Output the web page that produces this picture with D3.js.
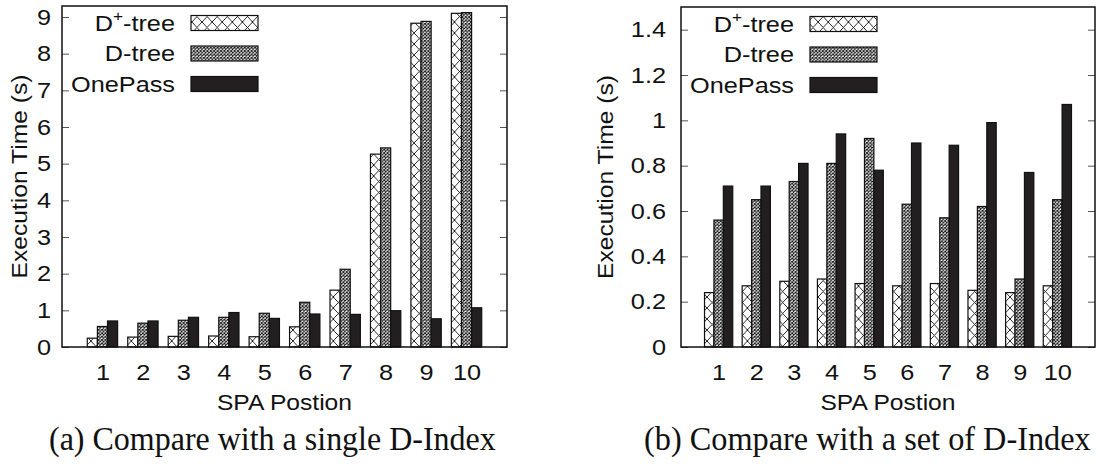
<!DOCTYPE html>
<html>
<head>
<meta charset="utf-8">
<script src="https://cdn.jsdelivr.net/npm/d3@7"></script>
<style>
  body { margin: 0; background: #fff; }
  text { font-family: "Liberation Sans", Arial, sans-serif; fill: #111; }
</style>
</head>
<body>
<svg id="chart" width="1098" height="464"></svg>
<script>
// SPA positions along the x axis
const categories = ["1", "2", "3", "4", "5", "6", "7", "8", "9", "10"];

// (a) execution time (s) against a single D-Index
const singleDplusTree = [0.24, 0.27, 0.29, 0.30, 0.28, 0.55, 1.55, 5.26, 8.83, 9.10];
const singleDTree     = [0.56, 0.65, 0.73, 0.81, 0.92, 1.22, 2.12, 5.43, 8.88, 9.12];
const singleOnePass   = [0.71, 0.71, 0.81, 0.94, 0.78, 0.90, 0.89, 0.99, 0.77, 1.07];

// (b) execution time (s) against a set of D-Index
const setDplusTree = [0.24, 0.27, 0.29, 0.30, 0.28, 0.27, 0.28, 0.25, 0.24, 0.27];
const setDTree     = [0.56, 0.65, 0.73, 0.81, 0.92, 0.63, 0.57, 0.62, 0.30, 0.65];
const setOnePass   = [0.71, 0.71, 0.81, 0.94, 0.78, 0.90, 0.89, 0.99, 0.77, 1.07];

// y tick values for each panel
const singleTicks = [0, 1, 2, 3, 4, 5, 6, 7, 8, 9];
const setTicks = [0, 0.2, 0.4, 0.6, 0.8, 1, 1.2, 1.4];

const seriesFills = ["url(#hatchCross)", "url(#hatchFine)", "#231f20"];
const SANS = '"Liberation Sans", Arial, sans-serif';
const SX = 1.15;

const svg = d3.select("#chart");

// widen (or narrow) a text around its anchor point
function stretch(sel, sx) {
  sel.each(function () {
    const t = d3.select(this);
    const x = +(t.attr("x") || 0), y = +(t.attr("y") || 0);
    const prev = t.attr("transform") || "";
    t.attr("transform", `${prev} translate(${x},${y}) scale(${sx},1) translate(${-x},${-y})`);
  });
}

// hatch patterns for the two tree variants
const defs = svg.append("defs");
const pCross = defs.append("pattern")
  .attr("id", "hatchCross").attr("patternUnits", "userSpaceOnUse")
  .attr("width", 10.1).attr("height", 11);
pCross.append("rect").attr("width", 10.1).attr("height", 11).attr("fill", "#fff");
pCross.append("path").attr("d", "M0,0L10.1,11M10.1,0L0,11")
  .attr("stroke", "#111").attr("stroke-width", 0.9).attr("fill", "none");

const pFine = defs.append("pattern")
  .attr("id", "hatchFine").attr("patternUnits", "userSpaceOnUse")
  .attr("width", 3.4).attr("height", 3.4);
pFine.append("rect").attr("width", 3.4).attr("height", 3.4).attr("fill", "#fff");
pFine.append("path").attr("d", "M-0.85,-0.85L4.25,4.25M4.25,-0.85L-0.85,4.25")
  .attr("stroke", "#111").attr("stroke-width", 0.95).attr("fill", "none");

function drawPanel(p) {
  const g = svg.append("g");
  const x = d3.scaleLinear().domain([0, categories.length + 1]).range([p.left, p.right]);
  const y = d3.scaleLinear().domain([0, p.ymax]).range([p.bottom, p.top]);
  const bw = x(0.25) - x(0);

  // y axis: labels on the left, inward ticks on both sides
  const fmt = d3.format("~g");
  const yl = g.append("g").attr("transform", `translate(${p.left},0)`)
    .call(d3.axisLeft(y).tickValues(p.ticks).tickFormat(fmt)
      .tickSize(-7).tickSizeOuter(0).tickPadding(p.labelPad));
  const yr = g.append("g").attr("transform", `translate(${p.right},0)`)
    .call(d3.axisRight(y).tickValues(p.ticks).tickFormat("")
      .tickSize(-7).tickSizeOuter(0));
  [yl, yr].forEach(a => {
    a.select(".domain").remove();
    a.selectAll(".tick line").attr("stroke", "#555").attr("stroke-width", 1);
  });
  yl.selectAll(".tick text").attr("font-size", 22).attr("fill", "#111")
    .style("font-family", SANS).call(stretch, SX);

  // x axis: category labels, no ticks
  const xa = g.append("g").attr("transform", `translate(0,${p.bottom})`)
    .call(d3.axisBottom(x).tickValues(categories.map(c => +c))
      .tickFormat(d => categories[d - 1]).tickSize(0).tickPadding(17));
  xa.select(".domain").remove();
  xa.selectAll(".tick text").attr("font-size", 22).attr("fill", "#111")
    .style("font-family", SANS).call(stretch, SX);

  // clustered bars
  p.series.forEach((vals, s) => {
    g.append("g").selectAll("rect").data(vals).join("rect")
      .attr("x", (d, i) => x(i + 1 - 0.375 + s * 0.25))
      .attr("y", d => y(d))
      .attr("width", bw)
      .attr("height", d => y(0) - y(d))
      .attr("fill", seriesFills[s])
      .attr("stroke", "#111").attr("stroke-width", 1.2);
  });

  // plot frame
  g.append("rect").attr("x", p.left).attr("y", p.top)
    .attr("width", p.right - p.left).attr("height", p.bottom - p.top)
    .attr("fill", "none").attr("stroke", "#111").attr("stroke-width", 1.5);

  // legend
  const lg = g.append("g");
  ["D", "D-tree", "OnePass"].forEach((name, s) => {
    const cy = p.top + 17 + s * 30.5;
    const t = lg.append("text").attr("x", p.left + 113).attr("y", cy + 8)
      .attr("text-anchor", "end").attr("font-size", 22);
    if (s === 0) {
      t.append("tspan").text("D");
      t.append("tspan").attr("font-size", 15).attr("dy", -10).text("+");
      t.append("tspan").attr("dy", 10).text("-tree");
    } else {
      t.text(name);
    }
    t.call(stretch, SX);
    lg.append("rect").attr("x", p.left + 129).attr("y", cy - 7.5)
      .attr("width", 67).attr("height", 15)
      .attr("fill", seriesFills[s]).attr("stroke", "#111").attr("stroke-width", 1.2);
  });

  // axis titles
  g.append("text")
    .attr("transform", `translate(${p.ylabelX},${(p.top + p.bottom) / 2}) rotate(-90) scale(1.12,1)`)
    .attr("text-anchor", "middle").attr("font-size", 22).text("Execution Time (s)");
  g.append("text").attr("x", (p.left + p.right) / 2).attr("y", 410)
    .attr("text-anchor", "middle").attr("font-size", 22).text("SPA Postion")
    .call(stretch, 1.12);

  // caption, fitted to its measured width
  const cap = g.append("text").attr("x", p.captionX).attr("y", 450)
    .style("font-family", '"Liberation Serif", "Times New Roman", serif')
    .attr("font-size", 34).text(p.caption);
  const natural = cap.node().getComputedTextLength();
  cap.call(stretch, 447 / natural);
}

drawPanel({
  left: 62, right: 507, top: 6, bottom: 347, ymax: 9.3,
  ticks: singleTicks, labelPad: 11, ylabelX: 27, captionX: 49,
  series: [singleDplusTree, singleDTree, singleOnePass],
  caption: "(a) Compare with a single D-Index"
});
drawPanel({
  left: 681, right: 1095, top: 7, bottom: 347, ymax: 1.5,
  ticks: setTicks, labelPad: 15, ylabelX: 613, captionX: 644,
  series: [setDplusTree, setDTree, setOnePass],
  caption: "(b) Compare with a set of D-Index"
});
</script>
</body>
</html>
